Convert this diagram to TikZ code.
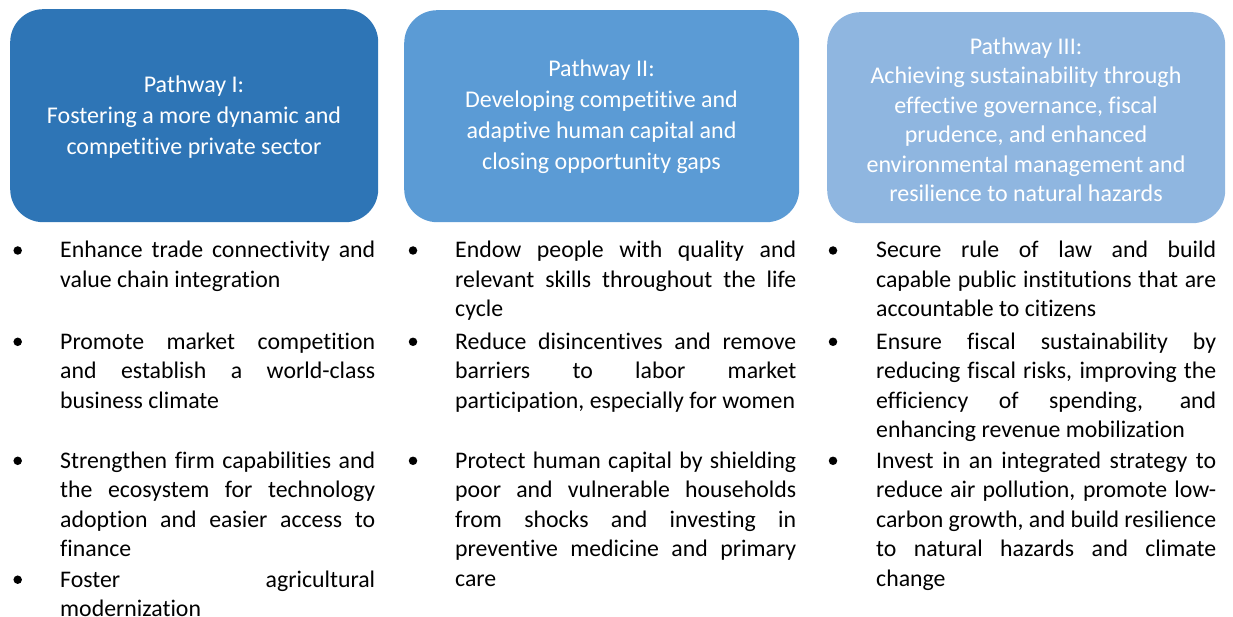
\documentclass[tikz,border=0pt]{standalone}
\usepackage{fontspec}
\setmainfont{Carlito}[Ligatures=NoCommon]
\definecolor{pathA}{HTML}{2E75B6}
\definecolor{pathB}{HTML}{5B9BD5}
\definecolor{pathC}{HTML}{8FB6E0}
\newcommand\jline[2]{\makebox[#1][s]{#2}}
\newcommand\listfont{\fontsize{23.8}{29.5}\selectfont}
\tikzset{
  pathbox/.style={shape=rectangle, draw=none, rounded corners=33pt, inner sep=0pt, anchor=north west},
  boxtext/.style={inner sep=0pt, anchor=base, text=white},
  itemtext/.style={inner sep=0pt, anchor=base west, text=black},
  bulletdot/.style={shape=circle, fill=black, draw=none, minimum size=8.5pt, inner sep=0pt}
}
\begin{document}
\begin{tikzpicture}[x=1pt,y=-1pt]
\useasboundingbox (0,0) rectangle (1233,617);
% boxes
\node[pathbox, fill=pathA, minimum width=368pt, minimum height=213pt] (boxA) at (10,9) {};
\node[pathbox, fill=pathB, minimum width=395pt, minimum height=212pt] (boxB) at (404,10) {};
\node[pathbox, fill=pathC, minimum width=398pt, minimum height=211pt] (boxC) at (827,12) {};
% box texts
\node[boxtext] (tA) at (194,92.3) {\parbox[t]{360pt}{\centering\fontsize{24}{31}\selectfont Pathway I:\\Fostering a more dynamic and\\competitive private sector}};
\node[boxtext] (tB) at (601.5,76.7) {\parbox[t]{390pt}{\centering\fontsize{24}{31}\selectfont Pathway II:\\Developing competitive and\\adaptive human capital and\\closing opportunity gaps}};
\node[boxtext] (tC) at (1026,54.3) {\parbox[t]{395pt}{\centering\fontsize{24}{29.5}\selectfont Pathway III:\\Achieving sustainability through\\effective governance, fiscal\\prudence, and enhanced\\environmental management and\\resilience to natural hazards}};
% column 1
\node[bulletdot] (dA1) at (17.7,250.5) {};
\node[itemtext] (iA1) at (60,258) {\parbox[t]{315pt}{\listfont\jline{315pt}{Enhance trade connectivity and}\\value chain integration}};
\node[bulletdot] (dA2) at (17.7,341.8) {};
\node[itemtext] (iA2) at (60,349.3) {\parbox[t]{315pt}{\listfont\jline{315pt}{Promote market competition}\\\jline{315pt}{and establish a world-class}\\business climate}};
\node[bulletdot] (dA3) at (17.7,460.8) {};
\node[itemtext] (iA3) at (60,468.3) {\parbox[t]{315pt}{\listfont\jline{315pt}{Strengthen firm capabilities and}\\\jline{315pt}{the ecosystem for technology}\\\jline{315pt}{adoption and easier access to}\\finance}};
\node[bulletdot] (dA4) at (17.7,579.7) {};
\node[itemtext] (iA4) at (60,587.0) {\parbox[t]{315pt}{\listfont\jline{315pt}{Foster agricultural}\\modernization}};
% column 2
\node[bulletdot] (dB1) at (413,250.5) {};
\node[itemtext] (iB1) at (455,258) {\parbox[t]{341pt}{\listfont\jline{341pt}{Endow people with quality and}\\\jline{341pt}{relevant skills throughout the life}\\cycle}};
\node[bulletdot] (dB2) at (413,341.8) {};
\node[itemtext] (iB2) at (455,349.3) {\parbox[t]{341pt}{\listfont\jline{341pt}{Reduce disincentives and remove}\\\jline{341pt}{barriers to labor market}\\participation, especially for women}};
\node[bulletdot] (dB3) at (413,460.8) {};
\node[itemtext] (iB3) at (455,468.3) {\parbox[t]{341pt}{\listfont\jline{341pt}{Protect human capital by shielding}\\\jline{341pt}{poor and vulnerable households}\\\jline{341pt}{from shocks and investing in}\\\jline{341pt}{preventive medicine and primary}\\care}};
% column 3
\node[bulletdot] (dC1) at (833,250.5) {};
\node[itemtext] (iC1) at (876,258) {\parbox[t]{340pt}{\listfont\jline{340pt}{Secure rule of law and build}\\\jline{340pt}{capable public institutions that are}\\accountable to citizens}};
\node[bulletdot] (dC2) at (833,341.8) {};
\node[itemtext] (iC2) at (876,349.3) {\parbox[t]{340pt}{\listfont\jline{340pt}{Ensure fiscal sustainability by}\\\jline{340pt}{reducing fiscal risks, improving the}\\\jline{340pt}{efficiency of spending, and}\\enhancing revenue mobilization}};
\node[bulletdot] (dC3) at (833,460.8) {};
\node[itemtext] (iC3) at (876,468.3) {\parbox[t]{340pt}{\listfont\jline{340pt}{Invest in an integrated strategy to}\\\jline{340pt}{reduce air pollution, promote low-}\\\jline{340pt}{carbon growth, and build resilience}\\\jline{340pt}{to natural hazards and climate}\\change}};
\end{tikzpicture}
\end{document}
